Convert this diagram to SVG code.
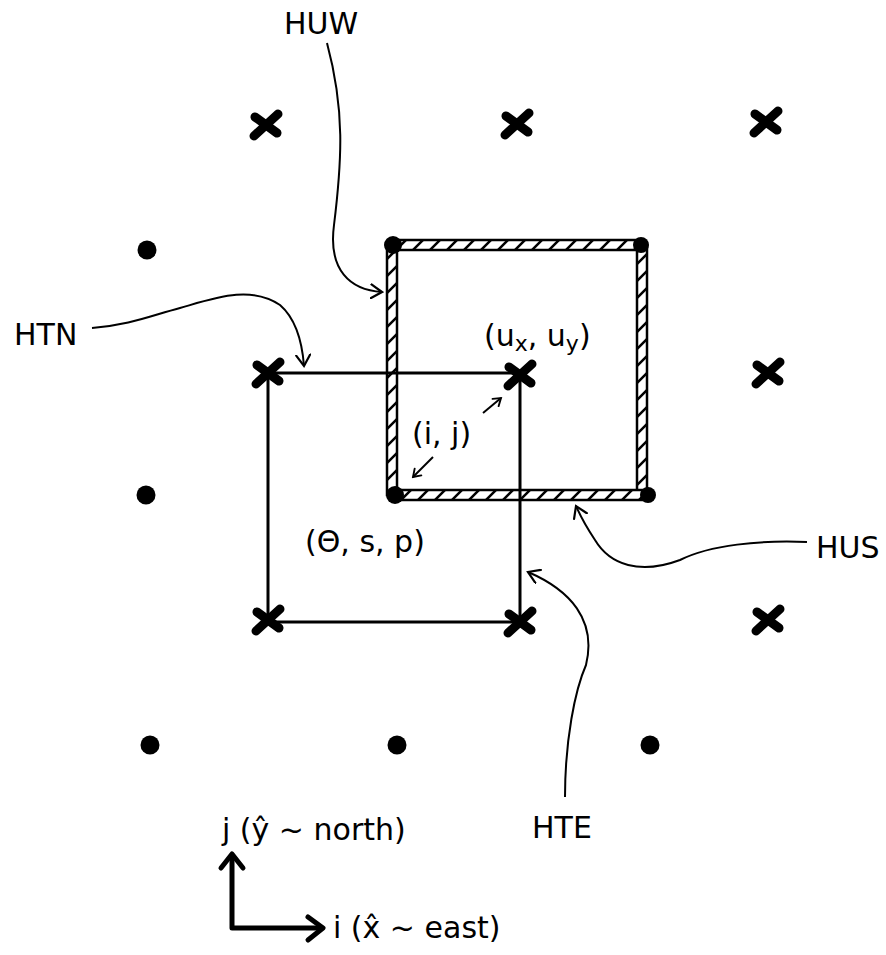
<svg xmlns="http://www.w3.org/2000/svg" width="886" height="955" viewBox="0 0 886 955">
<style>
.lbl{font-family:"DejaVu Sans","Liberation Sans",sans-serif;font-size:30px;fill:#000}
.xm{stroke:#000;stroke-width:9;stroke-linecap:round}
.dot{fill:#000}
.thin{stroke:#000;stroke-width:3;fill:none}
.bar{fill:url(#hatch);stroke:#000;stroke-width:2.5}
.lead{stroke:#000;stroke-width:2;fill:none;marker-end:url(#chev)}
.axis{stroke:#000;stroke-width:5;fill:none;stroke-linecap:round;stroke-linejoin:round}
</style>
<defs>
<pattern id="hatch" patternUnits="userSpaceOnUse" width="17" height="17">
<rect width="17" height="17" fill="#fff"/>
<path d="M0,17 L17,0 M-3,3 L3,-3 M14,20 L20,14" stroke="#000" stroke-width="2.5"/>
</pattern>
<marker id="chev" viewBox="-12 -8 14 16" markerWidth="14" markerHeight="16" refX="0" refY="0" orient="auto" markerUnits="userSpaceOnUse">
<path d="M-11,-7 L0,0 L-11,7" fill="none" stroke="#000" stroke-width="2.2" stroke-linecap="round"/>
</marker>
<marker id="chevS" viewBox="-12 -8 14 16" markerWidth="11" markerHeight="13" refX="0" refY="0" orient="auto" markerUnits="userSpaceOnUse">
<path d="M-9,-6 L0,0 L-9,6" fill="none" stroke="#000" stroke-width="2.4" stroke-linecap="round"/>
</marker>
<g id="xmark"><line class="xm" x1="-12" y1="11" x2="12" y2="-11"/><line class="xm" x1="-11" y1="-8" x2="11" y2="8"/></g>
</defs>
<rect width="886" height="955" fill="#fff"/>

<g id="grid-x">
<use href="#xmark" x="266" y="125"/>
<use href="#xmark" x="517" y="124"/>
<use href="#xmark" x="766" y="122"/>
<use href="#xmark" x="768" y="373"/>
<use href="#xmark" x="768" y="620"/>
</g>
<g id="grid-dots">
<circle class="dot" cx="147" cy="250" r="9.5"/>
<circle class="dot" cx="146" cy="495" r="9.5"/>
<circle class="dot" cx="150" cy="745" r="9.5"/>
<circle class="dot" cx="397" cy="745" r="9.5"/>
<circle class="dot" cx="650" cy="745" r="9.5"/>
</g>

<g id="u-cell">
<rect class="bar" x="393" y="240" width="248" height="10"/>
<rect class="bar" x="387" y="245" width="10" height="250"/>
<rect class="bar" x="637" y="245" width="10" height="250"/>
<rect class="bar" x="395" y="490" width="253" height="10"/>
<circle class="dot" cx="393" cy="245" r="9"/>
<circle class="dot" cx="641" cy="245" r="8"/>
<circle class="dot" cx="395" cy="495" r="9"/>
<circle class="dot" cx="648" cy="495" r="8"/>
</g>

<g id="t-cell">
<path class="thin" d="M268,373 L520,373 L520,622 L268,622 Z"/>
<use href="#xmark" x="268" y="373"/>
<use href="#xmark" x="520" y="375"/>
<use href="#xmark" x="268" y="620"/>
<use href="#xmark" x="520" y="622"/>
</g>

<g id="labels">
<text id="HUW" class="lbl" x="284" y="34">HUW</text>
<text id="HTN" class="lbl" x="14" y="345">HTN</text>
<text id="HUS" class="lbl" x="816" y="558">HUS</text>
<text id="HTE" class="lbl" x="532" y="838">HTE</text>
<text id="uxuy" class="lbl" x="484" y="346" font-size="33">(u<tspan font-size="22" dy="5">x</tspan><tspan dy="-5">, u</tspan><tspan font-size="22" dy="5">y</tspan><tspan dy="-5">)</tspan></text>
<text id="ij" class="lbl" x="412" y="444" font-size="33">(i, j)</text>
<text id="tsp" class="lbl" x="305" y="552" font-size="34">(Θ, s, p)</text>
<text id="jlab" class="lbl" x="222" y="840" font-size="28">j (ŷ ~ north)</text>
<text id="ilab" class="lbl" x="333" y="938" font-size="30">i (x̂ ~ east)</text>
</g>

<g id="connectors">
<path class="lead" d="M327,43 C345,110 342,160 334,225 C328,270 350,290 382,292"/>
<path class="lead" d="M92,328 C130,325 150,316 180,308 C215,298 250,285 280,305 C295,318 302,340 304,366"/>
<path class="lead" d="M807,542 C760,540 710,545 680,560 C640,575 610,565 595,540 C585,525 580,515 576,506"/>
<path class="lead" d="M565,797 C565,740 575,690 586,665 C597,620 570,590 528,572"/>
<path class="lead" style="marker-end:url(#chevS)" d="M483,413 L501,398"/>
<path class="lead" style="marker-end:url(#chevS)" d="M433,457 L413,477"/>
<path class="axis" d="M232,856 L232,928 L322,928"/>
<path class="axis" d="M221,868 L232,854 L243,868"/>
<path class="axis" d="M308,917 L323,928 L308,940"/>
</g>
</svg>
